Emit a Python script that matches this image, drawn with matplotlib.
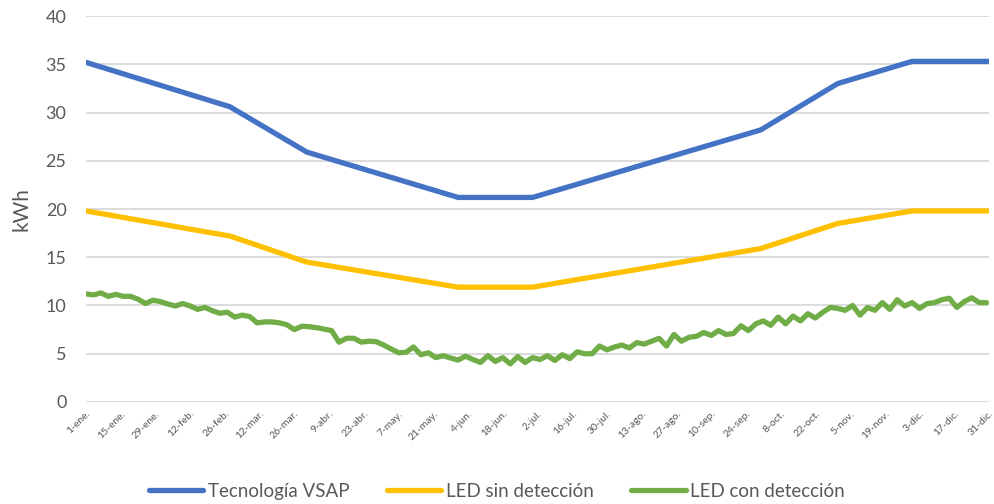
"""Consumo diario de alumbrado: VSAP frente a LED con y sin detección."""

import matplotlib

matplotlib.use("Agg")
import matplotlib.pyplot as plt  # noqa: E402

plt.rcParams["font.family"] = ["Lato", "DejaVu Sans"]

# Etiquetas del eje X (cada 14 días, año de 365 días; día 0 = 1-ene.)
tick_days = list(range(0, 365, 14))
tick_labels = [
    "1-ene.", "15-ene.", "29-ene.", "12-feb.", "26-feb.", "12-mar.", "26-mar.",
    "9-abr.", "23-abr.", "7-may.", "21-may.", "4-jun.", "18-jun.", "2-jul.",
    "16-jul.", "30-jul.", "13-ago.", "27-ago.", "10-sep.", "24-sep.", "8-oct.",
    "22-oct.", "5-nov.", "19-nov.", "3-dic.", "17-dic.", "31-dic.",
]

# Tecnología VSAP y LED sin detección: valores en los cambios de tramo
tramo_days = [0, 58, 89, 150, 180, 272, 303, 333, 364]
vsap = [35.2, 30.6, 25.9, 21.2, 21.2, 28.2, 33.0, 35.3, 35.3]
led_sin = [19.8, 17.2, 14.5, 11.9, 11.9, 15.9, 18.5, 19.8, 19.8]

# LED con detección: un valor cada 3 días
led_con = [
    11.2, 11.1, 11.3, 10.95, 11.15, 10.95, 10.95, 10.65, 10.2, 10.55,
    10.4, 10.15, 9.95, 10.2, 9.95, 9.6, 9.8, 9.45, 9.2, 9.3,
    8.8, 9.0, 8.85, 8.2, 8.3, 8.3, 8.2, 8.0, 7.5, 7.85,
    7.8, 7.7, 7.55, 7.4, 6.2, 6.6, 6.6, 6.2, 6.3, 6.25,
    5.9, 5.5, 5.1, 5.15, 5.7, 4.9, 5.1, 4.6, 4.8, 4.55,
    4.35, 4.75, 4.4, 4.1, 4.8, 4.2, 4.6, 3.95, 4.7, 4.1,
    4.6, 4.4, 4.8, 4.3, 4.9, 4.5, 5.2, 5.0, 5.0, 5.8,
    5.4, 5.7, 5.9, 5.6, 6.15, 6.0, 6.3, 6.6, 5.8, 7.0,
    6.3, 6.7, 6.8, 7.2, 6.9, 7.4, 7.0, 7.1, 7.9, 7.4,
    8.1, 8.4, 7.95, 8.8, 8.1, 8.9, 8.4, 9.15, 8.7, 9.3,
    9.8, 9.7, 9.5, 10.0, 9.0, 9.8, 9.5, 10.3, 9.6, 10.6,
    9.95, 10.3, 9.7, 10.2, 10.3, 10.6, 10.75, 9.8, 10.4, 10.8,
    10.3, 10.3,
]
led_con_days = [3 * i for i in range(len(led_con))]

TEXT = "#595959"
GRID = "#D9D9D9"

fig = plt.figure(figsize=(9.94, 5.04), dpi=100)
ax = fig.add_axes([0.0865, 0.2024, 0.9085, 0.7658])

kw = dict(linewidth=3.8, solid_joinstyle="round", solid_capstyle="round")
ax.plot(tramo_days, vsap, color="#4472C4", label="Tecnología VSAP", **kw)
ax.plot(tramo_days, led_sin, color="#FFC000", label="LED sin detección", **kw)
ax.plot(led_con_days, led_con, color="#70AD47", label="LED con detección", **kw)

ax.set_xlim(0, 364)
ax.set_ylim(0, 40)
ax.set_yticks(range(0, 41, 5))
ax.yaxis.grid(True, color=GRID, linewidth=1.3)
ax.set_axisbelow(True)
for side in ax.spines.values():
    side.set_visible(False)

ax.set_xticks(tick_days)
ax.set_xticklabels(tick_labels, rotation=45, ha="right", rotation_mode="anchor",
                   fontsize=7.5, color=TEXT)
ax.tick_params(axis="x", length=0, pad=5)
ax.tick_params(axis="y", length=0, pad=14, labelsize=13, labelcolor=TEXT)
ax.set_ylabel("kWh", fontsize=15, color=TEXT, labelpad=10)

fig.legend(loc="lower center", bbox_to_anchor=(0.5, -0.025), ncol=3,
           frameon=False, fontsize=13.5, labelcolor=TEXT, handlelength=2.9,
           handletextpad=0.25, columnspacing=2.0)

fig.savefig("out.png", dpi=100)
